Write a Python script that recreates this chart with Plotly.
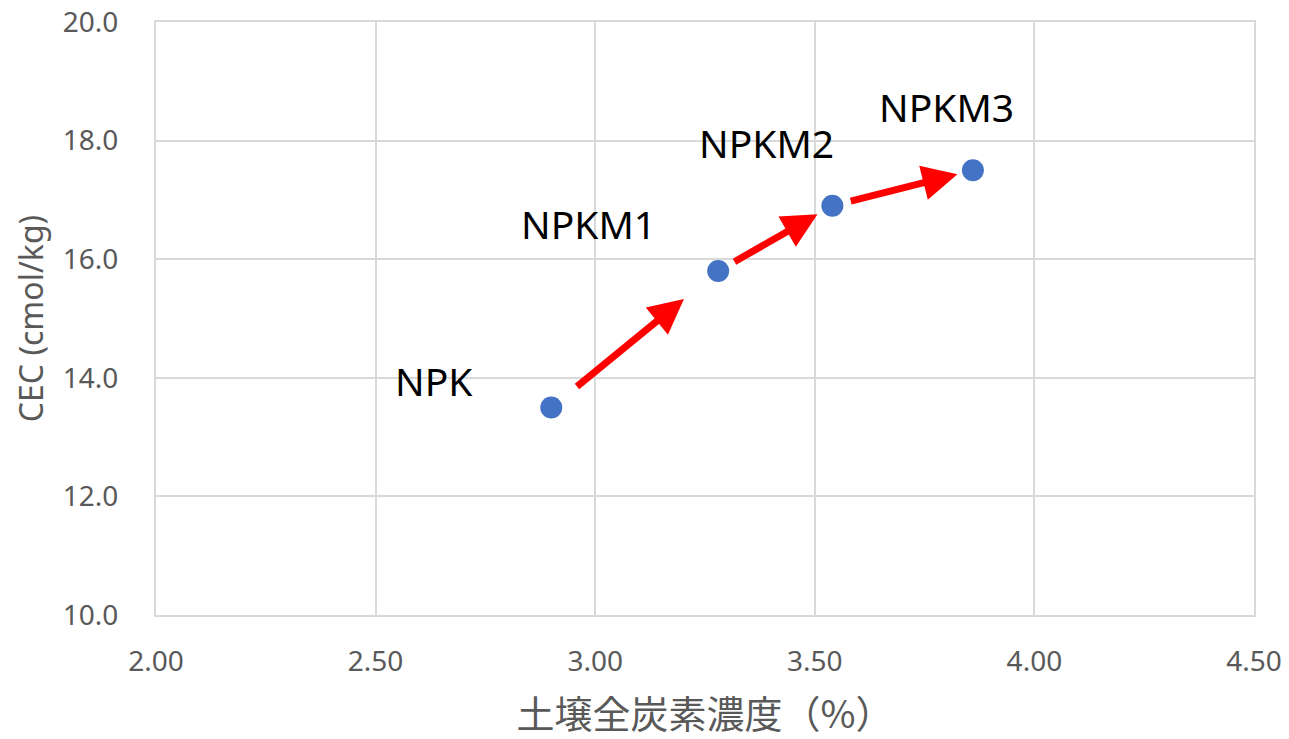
import plotly.graph_objects as go

# Soil total carbon (%) vs CEC (cmol/kg) per fertilizer treatment
treatments = ["NPK", "NPKM1", "NPKM2", "NPKM3"]
carbon_pct = [2.90, 3.28, 3.54, 3.86]
cec = [13.5, 15.8, 16.9, 17.5]

x_ticks = [2.0, 2.5, 3.0, 3.5, 4.0, 4.5]
y_ticks = [10.0, 12.0, 14.0, 16.0, 18.0, 20.0]

# label offsets (px) relative to each point
label_dx = [-117, -130, -66, -26]
label_dy = [27, 48, 63, 64]

# arrows run between consecutive points, trimmed at both ends
arrow_start = [0.145, 0.13, 0.12]
arrow_end = [0.795, 0.87, 0.89]

grey = "#595959"
grid = "#d9d9d9"

fig = go.Figure()
fig.add_trace(go.Scatter(
    x=carbon_pct, y=cec, mode="markers",
    marker=dict(size=22, color="#4472C4"),
    hoverinfo="x+y", showlegend=False,
))

annotations = []
for i in range(len(treatments) - 1):
    x0, y0 = carbon_pct[i], cec[i]
    x1, y1 = carbon_pct[i + 1], cec[i + 1]
    s, e = arrow_start[i], arrow_end[i]
    annotations.append(dict(
        x=x0 + (x1 - x0) * e, y=y0 + (y1 - y0) * e,
        ax=x0 + (x1 - x0) * s, ay=y0 + (y1 - y0) * s,
        xref="x", yref="y", axref="x", ayref="y",
        text="", showarrow=True, arrowhead=2, arrowsize=1.0,
        arrowwidth=7, arrowcolor="#ff0000", standoff=0, startstandoff=0,
    ))

for name, xv, yv, dx, dy in zip(treatments, carbon_pct, cec, label_dx, label_dy):
    annotations.append(dict(
        x=xv, y=yv, xref="x", yref="y", text=name, showarrow=False,
        xshift=dx, yshift=dy,
        font=dict(family="Noto Sans", size=39, color="#000000"),
    ))

fig.update_layout(
    width=1289, height=739,
    margin=dict(l=156, r=35, t=22, b=124),
    paper_bgcolor="white", plot_bgcolor="white",
    annotations=annotations,
    xaxis=dict(
        range=[2.0, 4.5], tickvals=x_ticks, tickformat=".2f",
        automargin=False,
        showgrid=True, gridcolor=grid, gridwidth=2,
        showline=True, linecolor=grid, linewidth=2, mirror=True,
        zeroline=False, ticks="", ticklabelstandoff=20,
        tickfont=dict(family="Noto Sans", size=28, color=grey),
        title=dict(text="土壌全炭素濃度（%）", standoff=30,
                   font=dict(family="Noto Sans CJK JP", size=38, color=grey)),
    ),
    yaxis=dict(
        range=[10.0, 20.0], tickvals=y_ticks, tickformat=".1f",
        automargin=False,
        showgrid=True, gridcolor=grid, gridwidth=2,
        showline=True, linecolor=grid, linewidth=2, mirror=True,
        zeroline=False, ticks="", ticklabelstandoff=30,
        tickfont=dict(family="Noto Sans", size=28, color=grey),
        title=dict(text="CEC (cmol/kg)", standoff=10,
                   font=dict(family="Noto Sans", size=32, color=grey)),
    ),
)

fig.write_html("out.html")
